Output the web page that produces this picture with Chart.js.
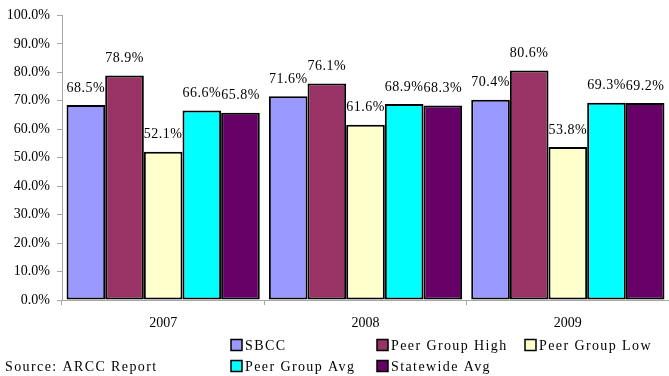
<!DOCTYPE html>
<html>
<head>
<meta charset="utf-8">
<script src="https://cdn.jsdelivr.net/npm/chart.js@4/dist/chart.umd.min.js"></script>
<style>
  html, body { margin: 0; padding: 0; background: #ffffff; }
  #wrap { width: 669px; height: 376px; }
</style>
</head>
<body>
<div id="wrap"><canvas id="chart" width="669" height="376"></canvas></div>
<script>
// Success rates by year (percent)
const years = ['2007', '2008', '2009'];
const seriesNames = ['SBCC', 'Peer Group High', 'Peer Group Low', 'Peer Group Avg', 'Statewide Avg'];
const sbcc      = [68.5, 71.6, 70.4];
const peerHigh  = [78.9, 76.1, 80.6];
const peerLow   = [52.1, 61.6, 53.8];
const peerAvg   = [66.6, 68.9, 69.3];
const statewide = [65.8, 68.3, 69.2];
const sourceNote = 'Source: ARCC Report';

const seriesValues = [sbcc, peerHigh, peerLow, peerAvg, statewide];
const seriesColors = ['#9999FF', '#993366', '#FFFFCC', '#00FFFF', '#660066'];

const SERIF = "'Liberation Serif', 'Times New Roman', serif";
const AXIS_GRAY = '#a6a6a6';

// Value labels above each bar, the two-row legend and the source note
const annotations = {
  id: 'annotations',
  afterDatasetsDraw(chart) {
    const ctx = chart.ctx;
    ctx.save();
    ctx.font = '14px ' + SERIF;
    ctx.fillStyle = '#000';
    ctx.textAlign = 'center';
    ctx.textBaseline = 'middle';
    ctx.letterSpacing = '0.5px';
    chart.data.datasets.forEach((ds, i) => {
      chart.getDatasetMeta(i).data.forEach((bar, j) => {
        ctx.fillText(ds.data[j].toFixed(1) + '%', bar.x, bar.y - 17);
      });
    });
    ctx.restore();
  },
  afterDraw(chart) {
    const ctx = chart.ctx;
    ctx.save();
    ctx.font = '14px ' + SERIF;
    ctx.letterSpacing = '1.4px';
    ctx.textBaseline = 'middle';
    ctx.textAlign = 'left';
    ctx.fillStyle = '#000';
    const cols = [231, 377, 525];
    const rows = [345, 366];
    chart.data.datasets.forEach((ds, i) => {
      const x = cols[i % 3];
      const y = rows[Math.floor(i / 3)];
      ctx.fillStyle = ds.backgroundColor;
      ctx.fillRect(x, y - 5.5, 11, 11);
      ctx.lineWidth = 1.5;
      ctx.strokeStyle = '#000';
      ctx.strokeRect(x, y - 5.5, 11, 11);
      ctx.fillStyle = '#000';
      ctx.fillText(ds.label, x + 14, y + 1);
    });
    ctx.fillText(sourceNote, 5, 367);
    ctx.restore();
  }
};

new Chart(document.getElementById('chart'), {
  type: 'bar',
  data: {
    labels: years,
    datasets: seriesNames.map((name, i) => ({
      label: name,
      data: seriesValues[i],
      backgroundColor: seriesColors[i],
      borderColor: '#000000',
      borderWidth: 2,
      borderSkipped: false,
      categoryPercentage: 0.955,
      barPercentage: 1.0
    }))
  },
  options: {
    responsive: false,
    animation: false,
    events: [],
    layout: { padding: { top: 15, right: 0, bottom: 0, left: 0 } },
    plugins: {
      legend: { display: false },
      tooltip: { enabled: false },
      title: { display: false }
    },
    scales: {
      x: {
        grid: { offset: true, drawOnChartArea: false, color: AXIS_GRAY, tickLength: 5 },
        border: { color: AXIS_GRAY, width: 1 },
        ticks: { color: '#000', font: { family: SERIF, size: 14 }, padding: 10 },
        afterFit(scale) { scale.height = 76; }
      },
      y: {
        min: 0,
        max: 100,
        grid: { drawOnChartArea: false, color: AXIS_GRAY, tickLength: 5 },
        border: { color: AXIS_GRAY, width: 1 },
        ticks: {
          stepSize: 10,
          color: '#000',
          font: { family: SERIF, size: 14 },
          padding: 7,
          callback: v => v.toFixed(1) + '%'
        },
        afterFit(scale) { scale.width = 62; }
      }
    }
  },
  plugins: [annotations]
});
</script>
</body>
</html>
